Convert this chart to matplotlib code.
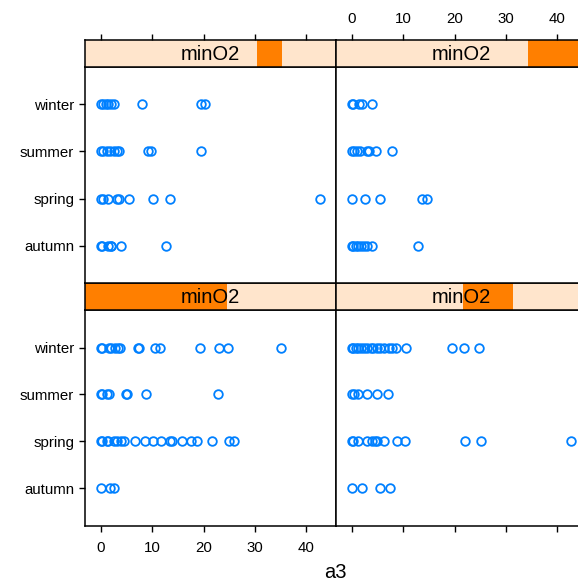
import matplotlib
matplotlib.use("Agg")
import matplotlib.pyplot as plt
from matplotlib.patches import Rectangle

plt.rcParams['font.family'] = ['Liberation Sans', 'DejaVu Sans']

seasons = ["autumn", "spring", "summer", "winter"]

# a3 values per season, one dict per minO2 interval (lattice panel order)
a3_p1 = {  # bottom-left
    "winter": [0, 0.2, 1.7, 2.1, 2.8, 3.3, 3.8, 7.3, 7.5, 10.6, 11.5, 19.4, 23.1, 24.8, 35.0],
    "summer": [0, 0.2, 1.2, 1.7, 4.9, 5.05, 8.9, 22.8],
    "spring": [0, 0.2, 1.2, 1.5, 2.5, 3.1, 3.9, 4.6, 6.7, 8.6, 10.1, 11.7, 13.4, 13.8,
               15.9, 17.5, 18.8, 21.6, 25.0, 25.9],
    "autumn": [0, 1.9, 2.5],
}
a3_p2 = {  # bottom-right
    "winter": [0, 0.26, 0.78, 1.3, 1.75, 2.4, 3.05, 3.7, 4.15, 5.0, 5.6, 6.3, 7.2, 7.9,
               8.7, 10.6, 19.6, 21.9, 24.8],
    "summer": [0, 0.45, 1.3, 3.05, 5.0, 7.1],
    "spring": [0, 0.26, 1.3, 3.05, 4.0, 4.5, 5.0, 6.2, 8.8, 10.3, 22.0, 25.2, 42.7],
    "autumn": [0, 1.95, 5.5, 7.5],
}
a3_p3 = {  # top-left
    "winter": [0, 0.5, 1.0, 1.5, 2.0, 2.5, 8.0, 19.6, 20.2],
    "summer": [0, 0.5, 1.2, 1.8, 2.5, 3.1, 3.6, 9.3, 9.8, 19.6],
    "spring": [0, 0.5, 1.5, 3.2, 3.6, 5.5, 10.2, 13.5, 42.7],
    "autumn": [0, 0.2, 1.5, 2.0, 2.1, 3.9, 12.8],
}
a3_p4 = {  # top-right
    "winter": [0, 0.27, 1.4, 1.95, 4.0],
    "summer": [0, 0.45, 1.1, 1.55, 3.05, 3.4, 4.7, 7.8],
    "spring": [0, 2.6, 5.5, 13.6, 14.6],
    "autumn": [0, 0.3, 0.8, 1.3, 1.75, 2.4, 3.05, 4.0, 12.9],
}

# minO2 shingle intervals, as fractions of the full minO2 range
shingle = [(0.0, 0.566), (0.506, 0.705), (0.685, 0.785), (0.767, 1.0)]

W, H = 578, 587
fig = plt.figure(figsize=(W / 100, H / 100), dpi=100)

left_x = [84.7, 335.7]
panel_w = 251
rows = [(66.7, 283.3), (310.0, 525.7)]  # top, bottom (pixel y)
strip_h = 27

blue = "#0080FF"
xt = [0, 10, 20, 30, 40]


def fx(px):
    return px / W


def fy(py):
    return 1 - py / H


panels = [(1, 0, a3_p1, shingle[0]), (1, 1, a3_p2, shingle[1]),
          (0, 0, a3_p3, shingle[2]), (0, 1, a3_p4, shingle[3])]

for row, col, data, (s0, s1) in panels:
    y0, y1 = rows[row]
    x0 = left_x[col]
    ax = fig.add_axes([fx(x0), fy(y1), panel_w / W, (y1 - y0) / H])
    for i, s in enumerate(seasons):
        vals = data[s]
        ax.plot(vals, [i + 1] * len(vals), linestyle="none", marker="o",
                markersize=6.2, markerfacecolor="none", markeredgecolor=blue,
                markeredgewidth=1.3)
    ax.set_xlim(-3.1, 45.7)
    ax.set_ylim(0.2, 4.8)
    for sp in ax.spines.values():
        sp.set_linewidth(1.1)
    ax.tick_params(direction="out", length=4, width=1, labelsize=10.8, colors="black")
    ax.set_xticks(xt)
    ax.set_yticks(range(1, 5))
    if col == 0:
        ax.set_yticklabels(seasons)
    else:
        ax.tick_params(axis="y", left=False, labelleft=False)
    if row == 1:
        ax.tick_params(axis="x", bottom=True, labelbottom=(col == 0), pad=7)
    else:
        ax.tick_params(axis="x", bottom=False, labelbottom=False)

    # strip with shingle range
    sax = fig.add_axes([fx(x0), fy(y0), panel_w / W, strip_h / H])
    sax.set_facecolor("#FFE5CC")
    sax.add_patch(Rectangle((s0, 0), s1 - s0, 1, transform=sax.transAxes,
                            facecolor="#FF7F00", edgecolor="none"))
    sax.text(0.5, 0.45, "minO2", transform=sax.transAxes, ha="center",
             va="center", fontsize=14.5)
    sax.set_xlim(-3.1, 45.7)
    sax.set_yticks([])
    for sp in sax.spines.values():
        sp.set_linewidth(1.1)
    if row == 0:
        sax.xaxis.tick_top()
        sax.set_xticks(xt)
        sax.tick_params(axis="x", direction="out", length=4, width=1,
                        labelsize=10.8, labeltop=(col == 1), pad=6)
    else:
        sax.set_xticks([])

fig.text(fx(335.7), fy(573), "a3", ha="center", va="center", fontsize=14.5)

fig.savefig("out.png", dpi=100)
